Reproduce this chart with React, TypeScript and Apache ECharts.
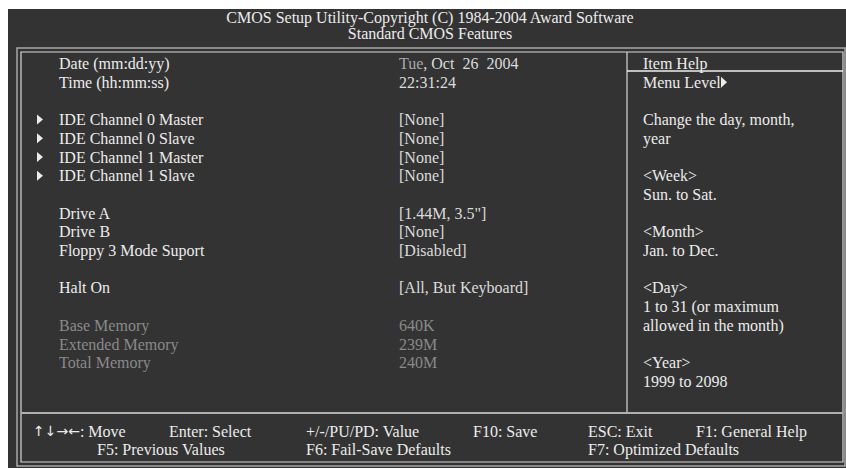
import React, { useEffect, useRef } from "react";
import * as echarts from "echarts";

// ---- content ----
const titleLines = [
  "CMOS Setup Utility-Copyright (C) 1984-2004 Award Software",
  "Standard CMOS Features",
];
const itemRows = [0, 1, 3, 4, 5, 6, 8, 9, 10, 12, 14, 15, 16];
const itemLabels = [
  "Date (mm:dd:yy)",
  "Time (hh:mm:ss)",
  "IDE Channel 0 Master",
  "IDE Channel 0 Slave",
  "IDE Channel 1 Master",
  "IDE Channel 1 Slave",
  "Drive A",
  "Drive B",
  "Floppy 3 Mode Suport",
  "Halt On",
  "Base Memory",
  "Extended Memory",
  "Total Memory",
];
const itemValues = [
  "{g|Tue}{w|, Oct\u00a0\u00a026\u00a0\u00a02004}",
  "22:31:24",
  "[None]",
  "[None]",
  "[None]",
  "[None]",
  '[1.44M, 3.5"]',
  "[None]",
  "[Disabled]",
  "[All, But Keyboard]",
  "640K",
  "239M",
  "240M",
];
const submenuRows = [3, 4, 5, 6];
const dimRows = [14, 15, 16];

const helpRows = [0, 1, 3, 4, 6, 7, 9, 10, 12, 13, 14, 16, 17];
const helpLines = [
  "Item Help",
  "Menu Level",
  "Change the day, month,",
  "year",
  "<Week>",
  "Sun. to Sat.",
  "<Month>",
  "Jan. to Dec.",
  "<Day>",
  "1 to 31 (or maximum",
  "allowed in the month)",
  "<Year>",
  "1999 to 2098",
];

const footerRow1 = [
  "{a|\u2191\u2193\u2192\u2190}: Move",
  "Enter: Select",
  "+/-/PU/PD: Value",
  "F10: Save",
  "ESC: Exit",
  "F1: General Help",
];
const footerRow2 = [
  "F5: Previous Values",
  "F6: Fail-Save Defaults",
  "F7: Optimized Defaults",
];

// ---- layout ----
const W = 846;
const H = 469;
const ROW0 = 63.5;
const STEP = 18.7;
const LABEL_X = 59;
const VALUE_X = 399;
const HELP_X = 643;
const footerX1 = [33, 169, 306, 473, 588, 696];
const footerX2 = [97, 306, 588];
const FOOT_Y1 = 431;
const FOOT_Y2 = 449;
const FS = 16;

const FONT = "'Liberation Serif', 'Times New Roman', serif";
const BG = "#333333";
const WHITE = "#ececec";
const VALUE = "#dcdcdc";
const DIM = "#8a8a8a";

const rowY = (r: number) => ROW0 + r * STEP;

function txt(
  text: string,
  x: number,
  y: number,
  fill: string,
  opts: any = {}
) {
  return {
    type: "text",
    x,
    y,
    scaleX: opts.scaleX ?? 1,
    silent: true,
    style: {
      text,
      x: 0,
      y: 0,
      fill,
      fontSize: opts.fontSize ?? FS,
      fontFamily: FONT,
      align: opts.align ?? "left",
      verticalAlign: "middle",
      textAlign: opts.align ?? "left",
      textVerticalAlign: "middle",
      rich: opts.rich,
    },
  };
}

export default function App() {
  const ref = useRef<HTMLDivElement>(null);
  useEffect(() => {
    if (!ref.current) return;
    const chart = echarts.init(ref.current, undefined, { renderer: "svg" });
    const els: any[] = [];
    // page background
    els.push({ type: "rect", shape: { x: 0, y: 0, width: W, height: H }, style: { fill: "#ffffff" } });
    els.push({ type: "rect", shape: { x: 8, y: 9, width: W - 8, height: 459 }, style: { fill: BG } });
    // frames
    els.push({
      type: "rect",
      shape: { x: 17, y: 48, width: 828, height: 418 },
      style: { fill: "none", stroke: "#a8a8a8", lineWidth: 1.5 },
    });
    els.push({
      type: "rect",
      shape: { x: 21, y: 52, width: 822, height: 410 },
      style: { fill: "none", stroke: "#d8d8d8", lineWidth: 1.2 },
    });
    // help column divider
    els.push({ type: "line", shape: { x1: 627, y1: 52, x2: 627, y2: 413 }, style: { stroke: "#d8d8d8", lineWidth: 1.2 } });
    els.push({ type: "line", shape: { x1: 627, y1: 71, x2: 843, y2: 71 }, style: { stroke: "#f0f0f0", lineWidth: 1.5 } });
    // footer divider
    els.push({ type: "line", shape: { x1: 21, y1: 413, x2: 843, y2: 413 }, style: { stroke: "#b0b0b0", lineWidth: 2 } });

    // title
    titleLines.forEach((t, i) => {
      els.push(txt(t, 430, 17 + i * 16, WHITE, { align: "center" }));
    });

    // items
    itemRows.forEach((r, i) => {
      const y = rowY(r);
      const dim = dimRows.indexOf(r) >= 0;
      els.push(txt(itemLabels[i], LABEL_X, y, dim ? DIM : WHITE));
      els.push(
        txt(itemValues[i], VALUE_X, y, dim ? DIM : VALUE, {
          rich: {
            g: { fill: "#a8a8a8", fontSize: FS, fontFamily: FONT },
            w: { fill: VALUE, fontSize: FS, fontFamily: FONT },
          },
        })
      );
      if (submenuRows.indexOf(r) >= 0) {
        els.push({
          type: "polygon",
          shape: { points: [[37, y - 5], [43, y], [37, y + 5]] },
          style: { fill: WHITE },
        });
      }
    });

    // help
    helpRows.forEach((r, i) => {
      const y = rowY(r);
      els.push(txt(helpLines[i], HELP_X, y, WHITE));
      if (i === 1) {
        els.push({
          type: "polygon",
          shape: { points: [[721, y - 5.5], [727, y], [721, y + 5.5]] },
          style: { fill: WHITE },
        });
      }
    });

    // footer
    const arrowRich = {
      a: { fill: WHITE, fontSize: 14, fontFamily: "'DejaVu Sans', sans-serif" },
    };
    footerRow1.forEach((t, i) => {
      els.push(txt(t, footerX1[i], FOOT_Y1, WHITE, { rich: arrowRich }));
    });
    footerRow2.forEach((t, i) => {
      els.push(txt(t, footerX2[i], FOOT_Y2, WHITE));
    });

    chart.setOption({
      animation: false,
      graphic: { elements: els },
    });
    return () => chart.dispose();
  }, []);
  return (
    <div
      ref={ref}
      style={{ position: "absolute", left: 0, top: 0, width: W, height: H }}
    />
  );
}
